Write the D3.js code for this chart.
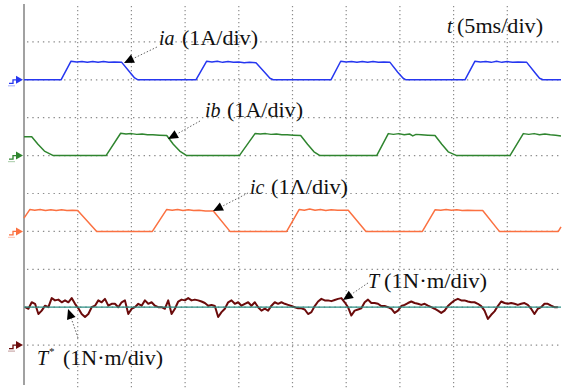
<!DOCTYPE html>
<html>
<head>
<meta charset="utf-8">
<script src="https://cdn.jsdelivr.net/npm/d3@7"></script>
<style>
  body { margin: 0; background: #fff; }
  svg { display: block; }
</style>
</head>
<body>
<svg id="scope" width="562" height="388"></svg>
<script>
// 5 ms/div on the time axis, 1 unit/div vertically
var timeTicks = [5, 10, 15, 20, 25, 30, 35, 40, 45];
var levelTicks = [1, 2, 3, 4, 5, 6, 7, 8, 9];

// phase currents [ms, A]
var iaPts = [
  [0,0],[3.45,0],[4.38,0.49],[4.9,0.47],[5.4,0.48],[5.9,0.46],[6.4,0.48],[6.9,0.46],[7.4,0.48],[7.9,0.46],[8.4,0.47],[9.1,0.46],[9.8,0.22],[10.3,0.05],[10.61,0],
  [16.01,0],[17.01,0.49],[17.5,0.47],[18.0,0.49],[18.5,0.46],[19.0,0.48],[19.5,0.46],[20.0,0.47],[20.5,0.45],[21.0,0.46],[21.6,0.45],[22.4,0.2],[22.9,0.04],[23.2,0],
  [28.58,0],[29.49,0.49],[30.0,0.47],[30.5,0.48],[31.0,0.46],[31.5,0.48],[32.0,0.46],[32.5,0.48],[33.0,0.46],[33.5,0.47],[34.08,0.46],[34.8,0.2],[35.3,0.04],[35.57,0],
  [41.06,0],[41.99,0.49],[42.5,0.47],[43.0,0.48],[43.5,0.46],[44.0,0.49],[44.5,0.46],[45.0,0.48],[45.5,0.46],[46.0,0.47],[46.81,0.46],[47.6,0.18],[48.0,0.04],[48.32,0],[50,0]
];
var ibPts = [
  [0,0.5],[0.72,0.5],[1.3,0.3],[1.9,0.12],[2.73,0],
  [7.64,0],[9.0,0.59],[9.5,0.57],[10.0,0.58],[10.5,0.56],[11.0,0.57],[11.5,0.55],[12.0,0.55],[12.6,0.54],[13.29,0.53],[13.9,0.3],[14.5,0.12],[15.15,0],
  [20.05,0],[21.51,0.58],[22.0,0.57],[22.5,0.58],[23.0,0.56],[23.5,0.57],[24.0,0.55],[24.5,0.55],[25.1,0.54],[25.76,0.53],[26.4,0.3],[27.0,0.1],[27.56,0],
  [32.84,0],[33.92,0.58],[34.4,0.56],[34.9,0.58],[35.4,0.55],[35.9,0.57],[36.2,0.52],[36.5,0.56],[37.0,0.55],[37.6,0.54],[38.27,0.53],[38.9,0.3],[39.5,0.1],[40.29,0],
  [45.25,0],[46.49,0.58],[47.0,0.56],[47.5,0.58],[48.0,0.55],[48.5,0.57],[49.0,0.55],[49.5,0.54],[50,0.52]
];
var icPts = [
  [0,0.35],[0.55,0.58],[1.0,0.56],[1.5,0.58],[2.0,0.55],[2.5,0.57],[3.0,0.55],[3.5,0.57],[4.0,0.55],[4.5,0.56],[5.0,0.55],[6.77,0],
  [11.95,0],[13.29,0.58],[13.8,0.56],[14.3,0.58],[14.8,0.55],[15.3,0.57],[15.8,0.55],[16.3,0.56],[16.9,0.54],[17.63,0.54],[19.18,0],
  [24.46,0],[25.63,0.58],[26.1,0.56],[26.6,0.59],[27.1,0.56],[27.6,0.58],[28.1,0.55],[28.6,0.57],[29.2,0.56],[30.19,0.56],[31.84,0],
  [37.09,0],[38.27,0.57],[38.8,0.56],[39.3,0.58],[39.8,0.56],[40.3,0.57],[40.8,0.55],[41.3,0.56],[42.0,0.55],[42.71,0.55],[44.26,0],
  [49.75,0],[50,0.12]
];

// torque samples [N.m], one every 0.31 ms from 0.1 ms
var torqueStart = 0.1, torqueStep = 0.31;
var torque = [
  1.00,0.96,1.13,1.09,0.82,0.91,1.04,1.00,1.24,1.18,
  1.20,1.13,1.18,1.13,1.24,1.09,0.97,0.82,0.74,0.82,
  1.00,1.04,1.18,1.13,1.22,1.04,1.09,1.09,1.00,1.13,
  1.18,0.82,0.96,1.00,1.09,1.04,1.18,1.09,1.13,1.04,
  1.00,1.00,0.96,1.18,0.82,0.96,1.15,1.20,1.18,1.24,
  1.18,1.20,1.18,1.15,1.11,1.04,1.06,1.03,0.74,0.87,
  0.96,1.13,1.18,1.09,1.13,1.04,1.09,1.13,1.04,1.13,
  1.00,0.91,0.96,0.91,1.04,1.13,1.09,
  1.13,1.09,1.06,1.03,1.00,0.97,0.97,0.94,0.82,0.87,
  1.03,1.15,1.22,1.18,1.18,1.16,1.19,1.22,1.24,1.13,
  1.00,0.78,0.91,0.94,0.97,1.13,1.20,1.11,1.11,1.09,
  1.03,1.03,1.00,0.96,0.85,0.91,1.03,1.06,1.11,1.15,
  1.11,1.09,1.06,1.09,1.04,1.00,0.96,0.91,0.85,0.91,
  1.03,1.11,1.18,1.22,1.18,1.18,1.15,1.13,1.13,1.09,
  1.03,0.91,0.69,0.80,0.89,1.03,1.15,1.11,1.09,1.11,
  1.09,1.06,1.09,1.11,1.06,0.96,0.82,0.96,1.00,1.09,
  1.09,1.04,1.00,1.00
];
var torqueRef = [[0, 1], [50, 1]];

var svg = d3.select("#scope");

var x = d3.scaleLinear().domain([0, 50]).range([24, 561]);
var yDiv = d3.scaleLinear().domain([0, 10]).range([4, 383]);

// each channel: ground level in divisions from the top
var channels = [
  {key: "ia", ground: 2, color: "#2637f0", data: iaPts},
  {key: "ib", ground: 4, color: "#2f852f", data: ibPts},
  {key: "ic", ground: 6, color: "#fb7141", data: icPts},
  {key: "T",  ground: 9, color: "#6b0b0b", data: torque.map(function(v, i) { return [torqueStart + i * torqueStep, v]; })}
];

function yOf(ch) {
  return function(v) { return yDiv(ch.ground - v); };
}

// grid
var grid = svg.append("g");
grid.selectAll("line.v")
  .data(timeTicks)
  .enter().append("line")
    .attr("x1", function(d) { return x(d); })
    .attr("x2", function(d) { return x(d); })
    .attr("y1", 6).attr("y2", 388)
    .attr("stroke", "#8c8c8c")
    .attr("stroke-width", 1.2)
    .attr("stroke-dasharray", "1.2,2.8");
grid.selectAll("line.h")
  .data(levelTicks)
  .enter().append("line")
    .attr("x1", 27).attr("x2", 562)
    .attr("y1", function(d) { return yDiv(d); })
    .attr("y2", function(d) { return yDiv(d); })
    .attr("stroke", "#8c8c8c")
    .attr("stroke-width", 1.2)
    .attr("stroke-dasharray", "1.4,3.9");

svg.append("line")
  .attr("x1", x(0)).attr("x2", x(0))
  .attr("y1", 4).attr("y2", 385)
  .attr("stroke", "#8a8a8a")
  .attr("stroke-width", 1.6);

// ground markers
channels.forEach(function(ch) {
  var gy = yDiv(ch.ground), gx = x(0);
  svg.append("path")
    .attr("d", "M" + (gx - 15) + "," + (gy + 3.5) + "H" + (gx - 11) + "V" + gy + "H" + (gx - 7))
    .attr("fill", "none").attr("stroke", ch.color).attr("stroke-width", 1.3);
  svg.append("path")
    .attr("d", "M" + (gx - 8) + "," + (gy - 4) + "L" + (gx - 1) + "," + gy + "L" + (gx - 8) + "," + (gy + 4) + "Z")
    .attr("fill", ch.color);
  svg.append("line")
    .attr("x1", gx - 16).attr("x2", gx - 9)
    .attr("y1", gy + 6).attr("y2", gy + 6)
    .attr("stroke", ch.color).attr("stroke-opacity", 0.35).attr("stroke-width", 1.2);
});

// traces
channels.forEach(function(ch) {
  var line = d3.line()
    .x(function(d) { return x(d[0]); })
    .y(function(d) { return yOf(ch)(d[1]); });
  svg.append("path")
    .datum(ch.data)
    .attr("d", line)
    .attr("fill", "none")
    .attr("stroke", ch.color)
    .attr("stroke-width", ch.key == "T" ? 2 : 1.5)
    .attr("stroke-linejoin", "round");
});

// reference torque T*
var tCh = channels[3];
svg.append("path")
  .datum(torqueRef)
  .attr("d", d3.line()
    .x(function(d) { return x(d[0]); })
    .y(function(d) { return yOf(tCh)(d[1]); }))
  .attr("stroke", "#2b8f84")
  .attr("stroke-width", 1.3);

// annotation arrows: tip and tail in [ms, div]
var arrows = [
  {tip: [9.31, 1.557],  tail: [12.38, 1.135]},
  {tip: [13.41, 3.562], tail: [16.39, 3.087]},
  {tip: [17.60, 5.462], tail: [20.86, 4.987]},
  {tip: [29.70, 7.810], tail: [32.03, 7.361]},
  {tip: [4.10, 8.047],  tail: [5.03, 8.813]}
];
arrows.forEach(function(a) {
  var tx = x(a.tip[0]), ty = yDiv(a.tip[1]),
      sx = x(a.tail[0]), sy = yDiv(a.tail[1]),
      ang = Math.atan2(ty - sy, tx - sx),
      len = 10, hw = 4.5;
  var bx = tx - len * Math.cos(ang), by = ty - len * Math.sin(ang);
  svg.append("line")
    .attr("x1", sx).attr("y1", sy).attr("x2", bx).attr("y2", by)
    .attr("stroke", "#555").attr("stroke-width", 0.9)
    .attr("stroke-dasharray", "1.5,1.8");
  svg.append("path")
    .attr("d", "M" + tx + "," + ty +
      "L" + (bx + hw * Math.sin(ang)) + "," + (by - hw * Math.cos(ang)) +
      "L" + (bx - hw * Math.sin(ang)) + "," + (by + hw * Math.cos(ang)) + "Z")
    .attr("fill", "#000");
});

// labels
function label(name, nx, unit, ux, uw, by, star) {
  var g = svg.append("g")
    .style("font-family", "'Liberation Serif', serif")
    .attr("fill", "#111");
  g.append("text")
    .attr("x", nx).attr("y", by)
    .style("font-size", "20px").style("font-style", "italic")
    .text(name);
  if (star) {
    g.append("text")
      .attr("x", nx + 12).attr("y", by - 10)
      .style("font-size", "11px")
      .text("*");
  }
  g.append("text")
    .attr("x", ux).attr("y", by)
    .style("font-size", "20px")
    .attr("textLength", uw)
    .attr("lengthAdjust", "spacingAndGlyphs")
    .text(unit);
}
label("ia", 159, "(1A/div)", 182, 76, 45);
label("t", 447, "(5ms/div)", 457, 86, 33);
label("ib", 205, "(1A/div)", 227, 76, 117);
label("ic", 250, "(1\u039B/div)", 271, 77, 194);
label("T", 368, "(1N\u00B7m/div)", 384, 103, 288);
label("T", 37, "(1N\u00B7m/div)", 63, 100, 365, true);
</script>
</body>
</html>
